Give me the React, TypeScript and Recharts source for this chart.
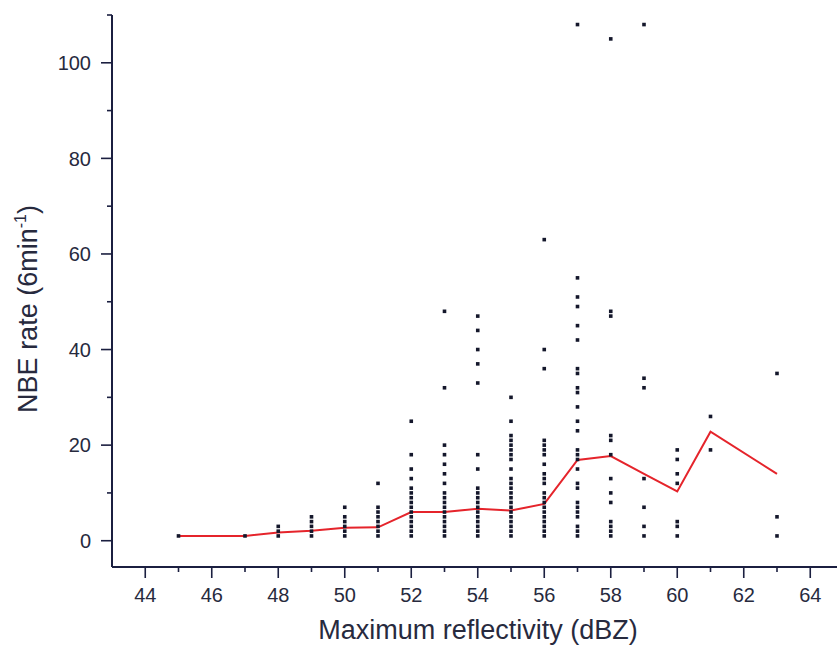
import { ComposedChart, Scatter, Line, XAxis, YAxis } from "recharts";

// Maximum reflectivity bins (dBZ)
const reflectivity = [45, 47, 48, 49, 50, 51, 52, 53, 54, 55, 56, 57, 58, 59, 60, 61, 63];

// Individual NBE rates (per 6 min) observed in each reflectivity bin
const nbeRates: number[][] = [
  [1],
  [1],
  [1, 2, 3],
  [1, 2, 3, 4, 5],
  [1, 2, 3, 4, 5, 7],
  [1, 2, 3, 4, 5, 6, 7, 12],
  [1, 2, 3, 4, 5, 6, 7, 8, 9, 10, 11, 13, 15, 18, 25],
  [1, 2, 3, 4, 5, 6, 7, 8, 9, 10, 12, 14, 16, 18, 20, 32, 48],
  [1, 2, 3, 4, 5, 6, 7, 8, 9, 10, 11, 15, 18, 33, 37, 40, 44, 47],
  [1, 2, 3, 4, 5, 6, 7, 8, 9, 10, 11, 12, 13, 15, 17, 18, 19, 20, 21, 22, 25, 30],
  [1, 2, 3, 4, 5, 6, 7, 8, 9, 10, 12, 13, 14, 16, 18, 19, 20, 21, 36, 40, 63],
  [1, 2, 3, 5, 6, 7, 8, 11, 12, 15, 17, 18, 19, 23, 25, 28, 31, 32, 35, 36, 42, 45, 49, 51, 55, 108],
  [1, 2, 3, 4, 8, 10, 13, 18, 21, 22, 47, 48, 105],
  [1, 3, 7, 13, 32, 34, 108],
  [1, 3, 4, 12, 14, 17, 19],
  [19, 26],
  [1, 5, 35],
];

// Average rate per bin (red curve)
const meanRate = [1, 1, 1.7, 2.1, 2.7, 2.8, 6.0, 6.0, 6.7, 6.3, 7.7, 16.9, 17.7, 14.0, 10.3, 22.8, 14.0];

const xTicks = [44, 45, 46, 47, 48, 49, 50, 51, 52, 53, 54, 55, 56, 57, 58, 59, 60, 61, 62, 63, 64];
const xLabels = [44, 46, 48, 50, 52, 54, 56, 58, 60, 62, 64];
const yTicks = [0, 10, 20, 30, 40, 50, 60, 70, 80, 90, 100, 110];
const yLabels = [0, 20, 40, 60, 80, 100];

const points = reflectivity.flatMap((x, i) => nbeRates[i].map((y) => ({ x, y })));
const meanLine = reflectivity.map((x, i) => ({ x, y: meanRate[i] }));

const AXIS = "#1b1f40";
const TEXT = "#272a3e";
const FONT = "'Liberation Sans', Arial, sans-serif";

function XTick({ x, y, payload }: any) {
  const major = xLabels.includes(payload.value);
  return (
    <g>
      <line x1={x} x2={x} y1={y} y2={y + (major ? 11 : 5)} stroke={AXIS} strokeWidth={1.6} />
      {major && (
        <text x={x} y={y + 35} textAnchor="middle" fontSize={20} fill={TEXT} fontFamily={FONT}>
          {payload.value}
        </text>
      )}
    </g>
  );
}

function YTick({ x, y, payload }: any) {
  const major = yLabels.includes(payload.value);
  return (
    <g>
      <line x1={x - (major ? 11 : 5)} x2={x} y1={y} y2={y} stroke={AXIS} strokeWidth={1.6} />
      {major && (
        <text x={x - 21} y={y} dy="0.36em" textAnchor="end" fontSize={20} fill={TEXT} fontFamily={FONT}>
          {payload.value}
        </text>
      )}
    </g>
  );
}

const XTitle = () => (
  <text x={478} y={639} textAnchor="middle" fontSize={27} fill={TEXT} fontFamily={FONT}>
    Maximum reflectivity (dBZ)
  </text>
);

const YTitle = () => (
  <text
    x={0}
    y={0}
    transform="translate(37 309) rotate(-90)"
    textAnchor="middle"
    fontSize={27}
    fill={TEXT}
    fontFamily={FONT}
  >
    <tspan>NBE rate (6min</tspan>
    <tspan fontSize={16} dy={-11}>-1</tspan>
    <tspan dy={11}>)</tspan>
  </text>
);

const Dot = ({ cx, cy }: any) => <rect x={cx - 1.8} y={cy - 1.8} width={3.6} height={3.6} fill="#14172b" />;

export default function App() {
  return (
    <div style={{ position: "absolute", left: 0, top: 0, width: 837, height: 647, overflow: "hidden", background: "#fff" }}>
      <ComposedChart width={860} height={647} margin={{ top: 15, right: 16.5, bottom: 0, left: 0 }}>
        <XAxis
          type="number"
          dataKey="x"
          domain={[43, 65]}
          ticks={xTicks}
          interval={0}
          allowDataOverflow
          height={80}
          tickSize={0}
          tickMargin={0}
          tickLine={false}
          tick={<XTick />}
          axisLine={{ stroke: AXIS, strokeWidth: 2 }}
          label={<XTitle />}
        />
        <YAxis
          type="number"
          dataKey="y"
          domain={[-5.5, 110]}
          ticks={yTicks}
          interval={0}
          allowDataOverflow
          width={112}
          tickSize={0}
          tickMargin={0}
          tickLine={false}
          tick={<YTick />}
          axisLine={{ stroke: AXIS, strokeWidth: 2 }}
          label={<YTitle />}
        />
        <Scatter data={points} dataKey="y" shape={<Dot />} isAnimationActive={false} />
        <Line
          data={meanLine}
          dataKey="y"
          type="linear"
          stroke="#e5242b"
          strokeWidth={2}
          dot={false}
          isAnimationActive={false}
        />
      </ComposedChart>
    </div>
  );
}
